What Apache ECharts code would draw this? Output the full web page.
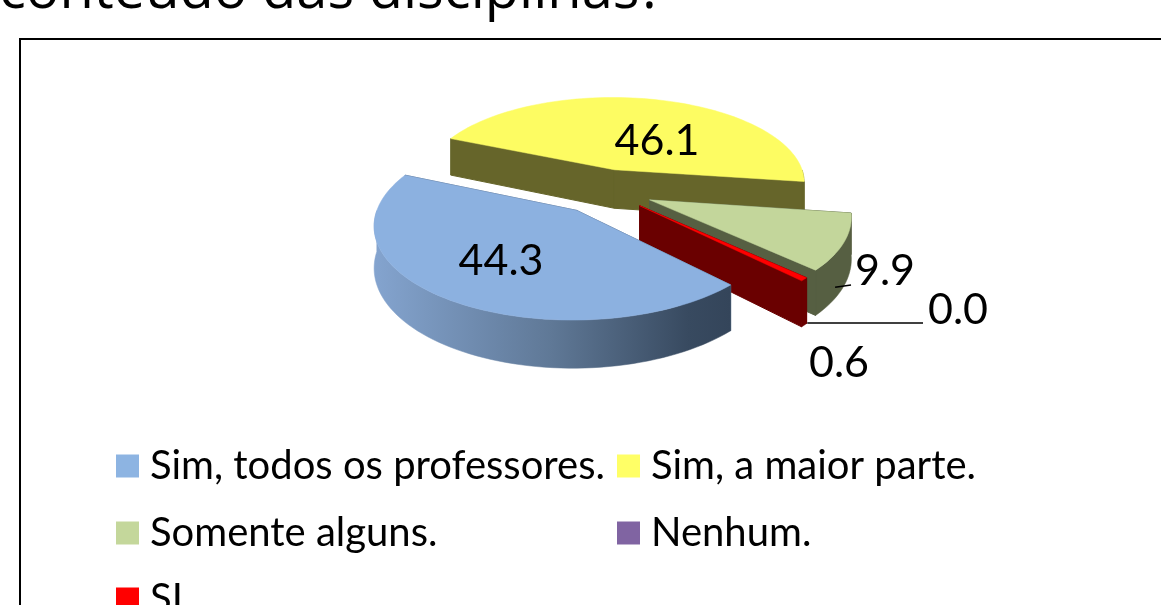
<!DOCTYPE html>
<html lang="pt">
<head>
    <meta charset="UTF-8">
    <title>Conteúdo das disciplinas</title>
    <script src="https://cdn.jsdelivr.net/npm/echarts@6/dist/echarts.min.js"></script>
</head>
<body style="height: 100%; margin: 0; background: #fff;">
<div id="container" style="width: 1161px; height: 605px;"></div>
<script type="text/javascript">
    const categories = ['Sim, todos os professores.', 'Sim, a maior parte.', 'Somente alguns.', 'Nenhum.', 'SI'];
    const values = [44.3, 46.1, 9.9, 0.0, 0.6];

    const topColors = ['#8cb1e0', '#fdfc62', '#c3d69b', '#8064a2', '#ff0000'];
    const sideColors = ['#5f7896', '#66652a', '#565f42', '#4d3c61', '#6a0000'];
    const legendColors = ['#8db4e2', '#ffff66', '#c4d79b', '#8064a2', '#ff0000'];
    const drawOrder = [4, 0, 1, 3, 2]; // z per slice, blue sits in front of the red face

    // how far each slice is pulled out of the pie, and a small vertical nudge on screen
    const explode = [40, 55, 54, 54, 54];
    const lift = [2, 0, -4, -5, -5];
    const pie = {cx: 600, cy: 193, r: 195, tilt: 0.456, persp: 1350, depth: 40, start: 314.5};

    // label text positions, and where the leader lines stop
    const labelSpots = [[501, 261], [657, 141], [885, 271], [958, 310], [839, 363]];
    const leaderEnds = [null, null, [851, 285], [923, 323], null];
    const legendSpots = [[116, 446], [617, 446], [116, 513], [617, 513], [116, 579]];

    const total = values.reduce(function (a, b) { return a + b; }, 0);

    function project(x, y, z) {
        let s = 1 / (1 + y / pie.persp);
        return [pie.cx + s * x, pie.cy - s * pie.tilt * y + s * z];
    }

    // start and end angle of a slice, going clockwise
    function sliceAngles(i) {
        let before = 0;
        for (let j = 0; j < i; j++) before += values[j];
        let a0 = pie.start - before / total * 360;
        return [a0, a0 - values[i] / total * 360];
    }

    function renderSlice(params, api) {
        let i = params.seriesIndex;
        let angles = sliceAngles(i);
        let mid = (angles[0] + angles[1]) / 2 * Math.PI / 180;
        let ox = explode[i] * Math.cos(mid);
        let oy = explode[i] * Math.sin(mid);
        let children = [];

        let arc = [];
        let steps = Math.max(2, Math.ceil((angles[0] - angles[1]) / 2));
        for (let n = 0; n <= steps; n++) {
            let a = (angles[0] + (angles[1] - angles[0]) * n / steps) * Math.PI / 180;
            arc.push([ox + pie.r * Math.cos(a), oy + pie.r * Math.sin(a)]);
        }
        let first = arc[0], last = arc[arc.length - 1];

        function at(z) {
            return function (p) {
                let q = project(p[0], p[1], z);
                return [q[0], q[1] + lift[i]];
            };
        }

        function face(points, fill, width) {
            children.push({
                type: 'polygon',
                shape: {points: points},
                style: {fill: fill, stroke: fill, lineWidth: width || 0.5}
            });
        }

        if (values[i] > 0) {
            let sideFill = sideColors[i];
            if (i === 0) {
                // the blue wall is shaded left to right
                sideFill = new echarts.graphic.LinearGradient(0, 0, 1, 0, [
                    {offset: 0, color: '#84a4cf'},
                    {offset: 0.5, color: '#5f7896'},
                    {offset: 0.88, color: '#384a60'},
                    {offset: 1, color: '#34455a'}
                ]);
            }
            // the two cut faces, a wider stroke closes the seam at the centre
            [first, last].forEach(function (edge) {
                let cut = [edge, [ox, oy]];
                face(cut.map(at(0)).concat(cut.slice().reverse().map(at(pie.depth))), sideColors[i], 1);
            });
            // outer wall, only the part that faces the viewer
            let wall = arc.filter(function (p) { return p[1] - oy <= 0; });
            if (wall.length > 1) {
                face(wall.map(at(0)).concat(wall.slice().reverse().map(at(pie.depth))), sideFill);
            }
            face([at(0)([ox, oy])].concat(arc.map(at(0))), topColors[i]);
        }

        if (leaderEnds[i]) {
            let a = (angles[1] + (angles[0] - angles[1]) * 0.3) * Math.PI / 180;
            let spot = i === 3 ? last : [ox + pie.r * Math.cos(a), oy + pie.r * Math.sin(a)];
            let from = at(pie.depth * (i === 3 ? 1 : 0.75))(spot);
            children.push({
                type: 'line',
                shape: {x1: from[0], y1: from[1], x2: leaderEnds[i][0], y2: leaderEnds[i][1]},
                style: {stroke: '#000', lineWidth: 1.5}
            });
        }

        children.push({
            type: 'text',
            x: labelSpots[i][0],
            y: labelSpots[i][1],
            style: {
                text: values[i].toFixed(1),
                font: '43px Lato',
                fill: '#000',
                align: 'center',
                verticalAlign: 'middle'
            }
        });
        return {type: 'group', children: children};
    }

    let option = {
        animation: false,
        title: {
            text: 'conteúdo das disciplinas?',
            left: -1,
            top: -36,
            padding: 0,
            textStyle: {fontFamily: 'Open Sans', fontSize: 56, fontWeight: 'normal', color: '#000'}
        },
        graphic: [{
            type: 'rect',
            shape: {x: 20, y: 39, width: 1300, height: 800},
            style: {fill: '#fff', stroke: '#000', lineWidth: 2},
            z: -1
        }],
        legend: categories.map(function (name, i) {
            return {
                data: [name],
                left: legendSpots[i][0],
                top: legendSpots[i][1],
                padding: 0,
                icon: 'rect',
                itemWidth: 23,
                itemHeight: 23,
                selectedMode: false,
                textStyle: {fontFamily: 'Lato', fontSize: 40, color: '#000', padding: [0, 0, 0, 6]}
            };
        }),
        series: categories.map(function (name, i) {
            return {
                type: 'custom',
                name: name,
                coordinateSystem: 'none',
                z: drawOrder[i],
                silent: true,
                itemStyle: {color: legendColors[i]},
                renderItem: renderSlice,
                data: [values[i]]
            };
        })
    };

    let myChart = echarts.init(document.getElementById('container'));
    myChart.setOption(option);
</script>
</body>
</html>
